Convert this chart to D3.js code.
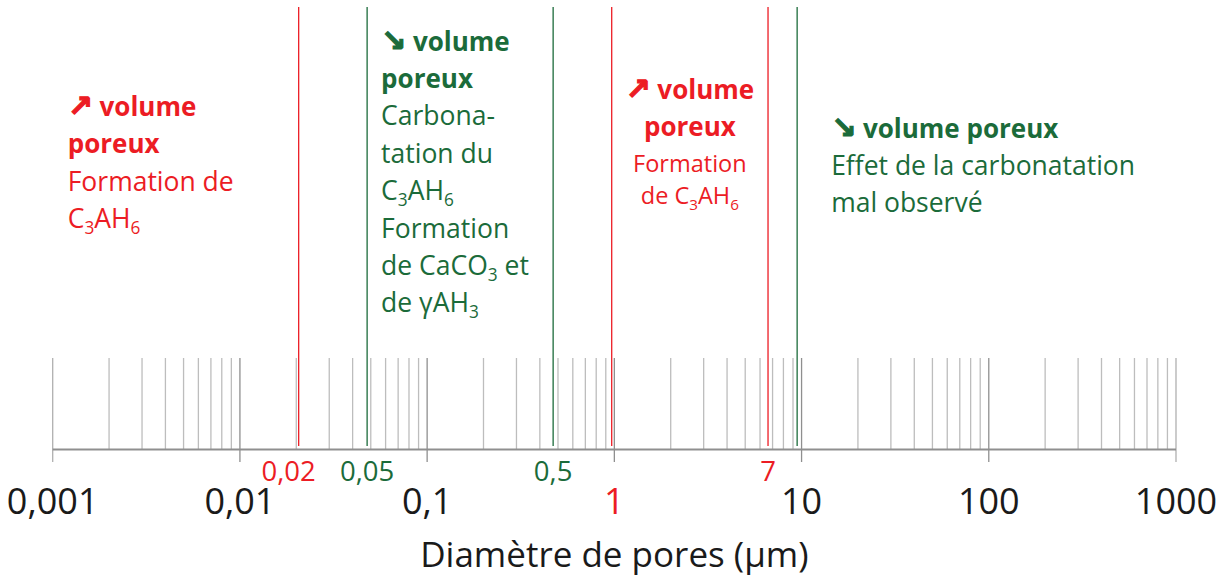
<!DOCTYPE html>
<html><head><meta charset="utf-8">
<script src="https://cdn.jsdelivr.net/npm/d3@7"></script>
<style>body{margin:0;background:#fff}svg{display:block}text{font-family:"Open Sans",sans-serif}</style>
</head><body>
<svg id="c" width="1226" height="576"></svg>
<script>
// ---- data ----
const decades = [0.001, 0.01, 0.1, 1, 10, 100, 1000];
const decadeLabels = ["0,001", "0,01", "0,1", "1", "10", "100", "1000"];
const minorMultipliers = [2, 3, 4, 5, 6, 7, 8, 9];
// boundary lines (positions) and their labels
const markerValues = [0.0206, 0.0478, 0.471, 0.968, 6.62, 9.47];
const markerLabels = ["0,02", "0,05", "0,5", "", "7", ""];
const markerColors = ["red", "green", "green", "red", "red", "green"];
const axisTitle = "Diamètre de pores (µm)";
const block1 = ["*↗ volume", "*poreux", "Formation de", "C{3}AH{6}"];
const block2 = ["*↘ volume", "*poreux", "Carbona-", "tation du", "C{3}AH{6}", "Formation", "de CaCO{3} et", "de γAH{3}"];
const block3 = ["*↗ volume", "*poreux", "Formation", "de C{3}AH{6}"];
const block4 = ["*↘ volume poreux", "Effet de la carbonatation", "mal observé"];

// ---- drawing ----
const RED = "#ec1c24", GREEN = "#1b6b3a";
const col = c => c === "red" ? RED : GREEN;
const svg = d3.select("#c");
const x = d3.scaleLog().domain([0.001, 1000]).range([52.7, 1176]);
const axisY = 449.5, gridTop = 358;

const minors = [];
decades.slice(0, -1).forEach(d => minorMultipliers.forEach(m => minors.push(d * m)));

svg.append("g").selectAll("line").data(minors).join("line")
  .attr("x1", d => x(d)).attr("x2", d => x(d))
  .attr("y1", gridTop).attr("y2", axisY)
  .attr("stroke", "#bdbdbd").attr("stroke-width", 1.3);

svg.append("g").selectAll("line").data(decades).join("line")
  .attr("x1", d => x(d)).attr("x2", d => x(d))
  .attr("y1", gridTop).attr("y2", 462)
  .attr("stroke", (d, i) => (i === 0 || i === decades.length - 1) ? "#b0b0b0" : "#8f8f8f")
  .attr("stroke-width", 1.3);

svg.append("line").attr("x1", x(0.001)).attr("x2", x(1000))
  .attr("y1", axisY).attr("y2", axisY)
  .attr("stroke", "#8f8f8f").attr("stroke-width", 1.8);

// tick labels
svg.append("g").selectAll("text").data(decades).join("text")
  .attr("x", d => x(d)).attr("y", 514)
  .attr("text-anchor", "middle").attr("font-size", 36)
  .attr("fill", d => d === 1 ? RED : "#1a1a1a")
  .text((d, i) => decadeLabels[i]);

// marker lines
svg.append("g").selectAll("line").data(markerValues).join("line")
  .attr("x1", d => x(d)).attr("x2", d => x(d))
  .attr("y1", 7).attr("y2", 446)
  .attr("stroke", (d, i) => col(markerColors[i]))
  .attr("stroke-width", 1.3);

const labelDx = [-10, 0, 0, 0, 0, 0];
const labelled = markerValues.map((v, i) => ({v, i})).filter(d => markerLabels[d.i] !== "");
svg.append("g").selectAll("text").data(labelled).join("text")
  .attr("x", d => x(d.v) + labelDx[d.i]).attr("y", 481)
  .attr("text-anchor", "middle").attr("font-size", 27.5)
  .attr("fill", d => col(markerColors[d.i]))
  .text(d => markerLabels[d.i]);

// axis title
svg.append("text").attr("x", x(1)).attr("y", 567)
  .attr("text-anchor", "middle").attr("font-size", 35).attr("fill", "#1a1a1a")
  .text(axisTitle);

// annotation blocks
function block(lines, xPos, y0, step, color, anchor, size, boldSize) {
  const g = svg.append("g");
  lines.forEach((ln, i) => {
    const bold = ln.startsWith("*");
    let s = bold ? ln.slice(1) : ln;
    const fs = bold ? boldSize : size;
    const y = Array.isArray(step) ? step[i] : y0 + i * step;
    const t = g.append("text").attr("x", xPos).attr("y", y)
      .attr("text-anchor", anchor).attr("font-size", fs)
      .attr("font-weight", bold ? 700 : 400).attr("fill", color);
    let arrow = null;
    if (s[0] === "↗" || s[0] === "↘") { arrow = s[0]; s = s.slice(1); }
    if (arrow) t.append("tspan").attr("font-size", fs * 1.15).attr("font-family", "DejaVu Sans")
      .attr("font-weight", 700).attr("stroke", color).attr("stroke-width", 1.2).text(arrow);
    const parts = s.split(/(\{[^}]*\})/).filter(p => p.length);
    let shifted = false;
    parts.forEach(p => {
      if (p.startsWith("{")) {
        t.append("tspan").attr("font-size", fs * 0.65).attr("dy", 6).text(p.slice(1, -1));
        shifted = true;
      } else {
        const ts = t.append("tspan").text(p);
        if (shifted) { ts.attr("dy", -6); shifted = false; }
      }
    });
  });
}
block(block1, x(0.001) + 15, 116, 37.4, RED, "start", 26.5, 26);
block(block2, x(markerValues[1]) + 14, 50.5, 37.4, GREEN, "start", 26.5, 26);
block(block3, (x(markerValues[3]) + x(markerValues[4])) / 2, 0, [99, 136, 172, 204], RED, "middle", 23.5, 26);
block(block4, x(markerValues[5]) + 34, 137.5, 37.4, GREEN, "start", 26.5, 26);
</script>
</body></html>
